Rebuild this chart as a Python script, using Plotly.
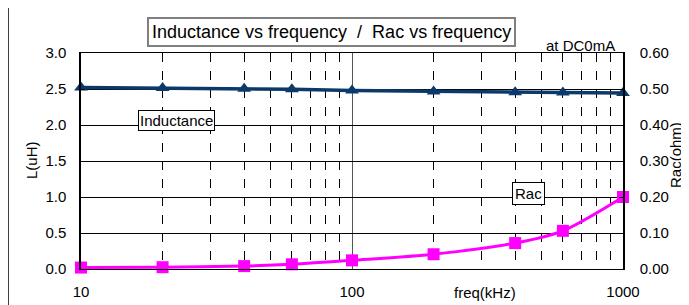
import plotly.graph_objects as go

freq_khz = [10, 20, 40, 60, 100, 200, 400, 600, 1000]
inductance_uh = [2.52, 2.515, 2.505, 2.495, 2.48, 2.465, 2.455, 2.45, 2.445]
rac_ohm = [0.004, 0.005, 0.008, 0.013, 0.024, 0.041, 0.072, 0.106, 0.200]

x_tick_vals = [10, 100, 1000]
x_minor_vals = [20, 30, 40, 50, 60, 70, 80, 90, 200, 300, 400, 500, 600, 700, 800, 900]
left_ticks = [0.0, 0.5, 1.0, 1.5, 2.0, 2.5, 3.0]
right_ticks = [0.0, 0.1, 0.2, 0.3, 0.4, 0.5, 0.6]

# page body has an 8px margin; compensate so the picture lines up
OFF = 8
W, H = 689 - OFF, 305 - OFF
L, R, T, B = 81 - OFF, 623 - OFF, 53 - OFF, 269 - OFF
FONT = "Liberation Sans, Arial, sans-serif"


def px(x):
    return (x - OFF - L) / (R - L)


def py(y):
    return (B - (y - OFF)) / (B - T)


fig = go.Figure()
fig.add_trace(go.Scatter(
    x=freq_khz, y=inductance_uh, name="Inductance", mode="lines+markers",
    line=dict(color="#0b3a6a", width=3.5),
    marker=dict(symbol="triangle-up", size=12, color="#0b3a6a"),
    yaxis="y", cliponaxis=False,
))
fig.add_trace(go.Scatter(
    x=freq_khz, y=rac_ohm, name="Rac", mode="lines+markers",
    line=dict(color="#ff00ff", width=3, shape="spline", smoothing=0.8),
    marker=dict(symbol="square", size=12, color="#ff00ff"),
    yaxis="y2", cliponaxis=False,
))

fig.update_layout(
    width=W, height=H,
    margin=dict(l=L, r=W - R, t=T, b=H - B, pad=0, autoexpand=False),
    paper_bgcolor="white", plot_bgcolor="white",
    showlegend=False,
    font=dict(family=FONT, size=15, color="black"),
    xaxis=dict(
        type="log", range=[1, 3], automargin=False,
        tickmode="array", tickvals=x_tick_vals, ticktext=["10", "100", "1000"],
        showgrid=True, gridcolor="#555555", gridwidth=1,
        showline=True, linecolor="black", linewidth=1, mirror=True,
        ticks="", ticklabelstandoff=9,
        minor=dict(tickmode="array", tickvals=x_minor_vals, showgrid=True,
                   gridcolor="black", gridwidth=1, griddash="dash", ticks=""),
        zeroline=False,
    ),
    yaxis=dict(
        range=[0, 3], automargin=False, tickmode="array", tickvals=left_ticks,
        ticktext=[f"{v:.1f}" for v in left_ticks],
        showgrid=True, gridcolor="black", gridwidth=1,
        showline=True, linecolor="black", linewidth=1.5,
        ticks="inside", ticklen=4, tickcolor="black",
        zeroline=False, ticklabelstandoff=10,
    ),
    yaxis2=dict(
        range=[0, 0.6], automargin=False, overlaying="y", side="right",
        tickmode="array", tickvals=right_ticks,
        ticktext=[f"{v:.2f}" for v in right_ticks],
        showgrid=False, showline=True, linecolor="black", linewidth=1.5,
        ticks="inside", ticklen=4, tickcolor="black",
        zeroline=False, ticklabelstandoff=12,
    ),
)

annotations = [
    dict(text="Inductance vs frequency&nbsp;&nbsp;/&nbsp;&nbsp;Rac vs frequency",
         x=px(331), y=py(31.5),
         font=dict(size=18), bordercolor="#808080", borderwidth=2, borderpad=3,
         bgcolor="white"),
    dict(text="at DC0mA", x=px(580), y=py(46), font=dict(size=15)),
    dict(text="Inductance", x=px(176), y=py(120.5), font=dict(size=15),
         bordercolor="black", borderwidth=1, borderpad=1, bgcolor="white"),
    dict(text="Rac", x=px(528), y=py(193.5), font=dict(size=15),
         bordercolor="black", borderwidth=1, borderpad=2, bgcolor="white"),
    dict(text="L(uH)", x=px(31), y=py(160), textangle=-90, font=dict(size=15)),
    dict(text="Rac(ohm)", x=px(675), y=py(155), textangle=-90, font=dict(size=15)),
    dict(text="freq(kHz)", x=px(485), y=py(292), font=dict(size=15)),
]
for a in annotations:
    a.update(xref="paper", yref="paper", showarrow=False,
             xanchor="center", yanchor="middle")
fig.update_layout(annotations=annotations)

fig.add_shape(type="rect", xref="paper", yref="paper",
              x0=px(8), x1=px(720), y0=py(7), y1=py(340),
              line=dict(color="black", width=1.5), layer="below")

fig.write_html("out.html")
